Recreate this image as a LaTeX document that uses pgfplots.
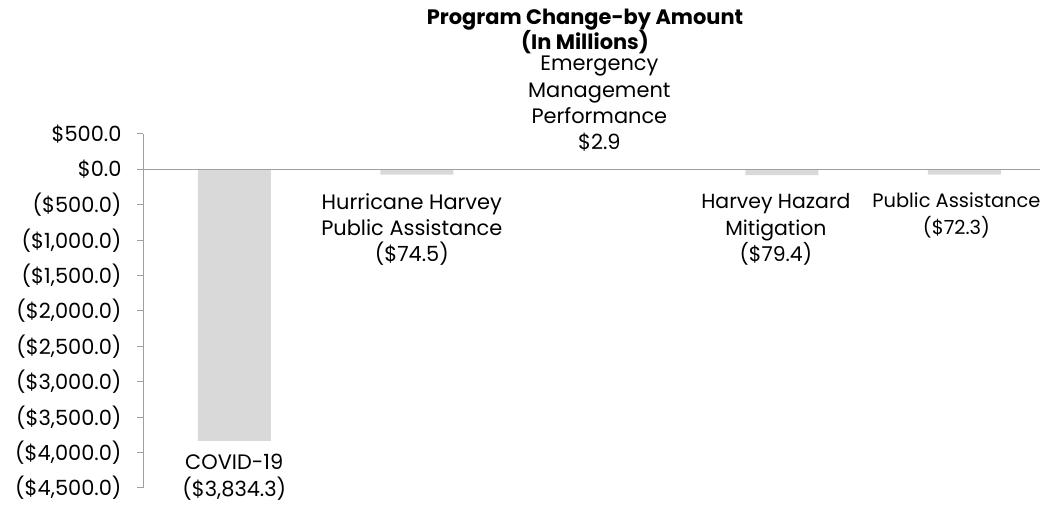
\documentclass[border=0pt]{standalone}
\usepackage{pgfplots}
\pgfplotsset{compat=1.18}
\usepackage{fontspec}
\setmainfont{Poppins}
\definecolor{barc}{RGB}{217,217,217}
\definecolor{axc}{RGB}{160,160,160}
\begin{document}
\begin{tikzpicture}[x=1bp,y=1bp]
\useasboundingbox (0,0) rectangle (1041,508);
\begin{axis}[
  at={(143bp,20bp)}, anchor=south west,
  scale only axis, width=897bp, height=354bp,
  xmin=-0.5, xmax=4.414, ymin=-4500, ymax=500,
  axis x line=none, axis y line*=left,
  y axis line style={axc, line width=1pt, -},
  ytick={-4500,-4000,-3500,-3000,-2500,-2000,-1500,-1000,-500,0,500},
  yticklabels={{(\$4,500.0)},{(\$4,000.0)},{(\$3,500.0)},{(\$3,000.0)},{(\$2,500.0)},{(\$2,000.0)},{(\$1,500.0)},{(\$1,000.0)},{(\$500.0)},{\$0.0},{\$500.0}},
  tick align=outside, major tick length=6bp,
  tick style={axc, line width=1pt},
  yticklabel style={font=\fontsize{21}{24}\selectfont, text=black, xshift=-12bp},
  clip=false,
]
\addplot[ybar, bar width=0.4, fill=barc, draw=none] coordinates {(0,-3834.3) (1,-74.5) (2,2.9) (3,-79.4) (4,-72.3)};
\draw[axc, line width=1pt] (axis cs:-0.5,0) -- (axis cs:4.414,0);
\node[anchor=north, align=center, font=\fontsize{21}{26.5}\selectfont] at (axis cs:0,-3834.3) [yshift=-10bp] {COVID-19\\(\$3,834.3)};
\node[anchor=north, align=center, font=\fontsize{21}{26.5}\selectfont] at (axis cs:1,-74.5) [yshift=-15bp, xshift=-5bp] {Hurricane Harvey\\Public Assistance\\(\$74.5)};
\node[anchor=south, align=center, font=\fontsize{21}{26.5}\selectfont] at (axis cs:2,2.9) [yshift=14bp] {Emergency\\Management\\Performance\\\$2.9};
\node[anchor=north, align=center, font=\fontsize{20.5}{26.5}\selectfont] at (axis cs:3,-79.4) [yshift=-15bp, xshift=-6bp] {Harvey Hazard\\Mitigation\\(\$79.4)};
\node[anchor=north, align=center, font=\fontsize{19.5}{26.5}\selectfont] at (axis cs:4,-72.3) [yshift=-15bp, xshift=-8bp] {Public Assistance\\(\$72.3)};
\end{axis}
\node[align=center, font=\bfseries\fontsize{21}{25}\selectfont] at (585,476.5) {Program Change-by Amount\\(In Millions)};
\end{tikzpicture}
\end{document}
